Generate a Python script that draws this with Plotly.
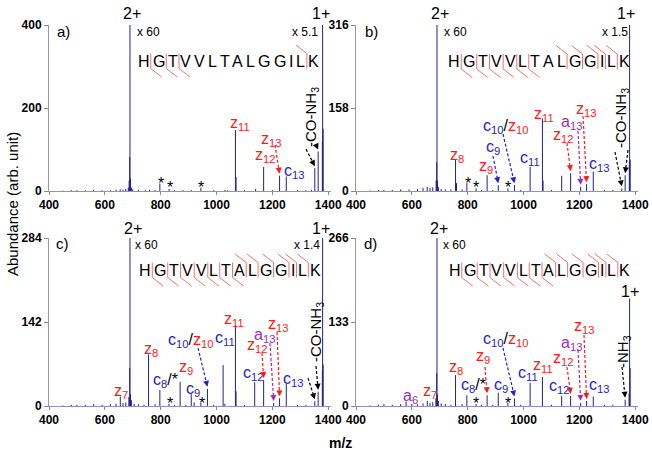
import math
import plotly.graph_objects as go

W, H = 652, 456
FONT = "Liberation Sans, Arial, sans-serif"

# ---------------- data ----------------
ymax_a, ymax_b, ymax_c, ymax_d = 400, 316, 284, 266
xticks = [400, 600, 800, 1000, 1200, 1400]

# panel a) peaks (m/z, abundance)
mz_a = [450, 480, 500, 530, 560, 590, 620, 640, 655, 665, 675, 684, 687, 689, 690, 692, 695, 700, 720, 745,
        760, 780, 797, 830, 850, 880, 910, 944, 990, 1030, 1040, 1067.7, 1070, 1100, 1140, 1168.7, 1200,
        1225.8, 1249.8, 1290, 1320, 1340, 1352, 1364, 1379, 1380, 1382]
ab_a = [1, 2, 2, 2, 3, 2, 2, 3, 4, 3, 5, 8, 25, 82, 400, 30, 8, 4, 3, 2,
        3, 2, 18, 5, 2, 2, 2, 8, 2, 3, 2, 147, 34, 2, 5, 58, 2,
        37, 35, 2, 2, 3, 55, 95, 120, 400, 150]

# panel b)
mz_b = [450, 480, 500, 530, 560, 590, 620, 640, 655, 665, 675, 687, 689, 690, 692, 695, 705, 720, 740,
        756.5, 760, 780, 797, 830, 850, 869.6, 890, 909.5, 944, 967.5, 990, 1023.6, 1067.7, 1070, 1100,
        1136.7, 1168.7, 1204.7, 1225.8, 1249.8, 1290, 1320, 1352, 1364, 1379, 1380, 1382]
ab_b = [1, 2, 2, 2, 3, 3, 4, 6, 8, 6, 7, 20, 55, 316, 20, 8, 4, 3, 3,
        60, 15, 3, 15, 5, 2, 30, 2, 11, 5, 11, 2, 46, 138, 20, 2,
        29, 34, 8, 13, 37, 2, 2, 5, 30, 55, 316, 60]

# panel c)
mz_c = [450, 480, 500, 530, 560, 590, 620, 640, 655.4, 665, 675, 686, 689, 690, 692, 695, 705, 720, 740,
        756.5, 780, 797, 830, 850, 869.6, 890, 909.5, 920, 944, 967.5, 990, 1023.6, 1030, 1067.7, 1070,
        1100, 1136.7, 1168.7, 1204.7, 1225.8, 1249.8, 1290, 1320, 1352, 1364, 1379, 1380, 1382]
ab_c = [1, 2, 2, 2, 3, 2, 3, 4, 16, 5, 6, 15, 64, 284, 20, 10, 4, 3, 2,
        87, 3, 27, 4, 2, 41, 2, 20, 6, 5, 29, 2, 69, 4, 137, 25,
        2, 40, 44, 5, 13, 37, 2, 2, 8, 24, 60, 284, 70]

# panel d)
mz_d = [450, 480, 500, 530, 560, 579.4, 600, 620, 640, 655.4, 665, 675, 686, 689, 690, 692, 695, 705, 720,
        740, 756.5, 780, 797, 830, 850, 869.6, 890, 909.5, 944, 967.5, 990, 1023.6, 1067.7, 1100, 1136.7,
        1168.7, 1204.7, 1225.8, 1249.8, 1290, 1320, 1364, 1378, 1380, 1382]
ab_d = [1, 2, 3, 2, 3, 7, 3, 3, 4, 8, 5, 6, 12, 52, 266, 18, 8, 4, 3,
        2, 49, 3, 17, 3, 2, 17, 2, 21, 5, 12, 2, 37, 46, 2, 16,
        16, 5, 8, 15, 2, 2, 10, 20, 170, 60]

sequence = list("HGTVVLTALGGILK")
z_cleav = {"a": [1, 2, 3], "b": [1, 2, 3, 4, 5, 6], "c": [1, 2, 3, 4, 5, 6, 7], "d": [1, 2, 3, 4, 5, 6, 7]}
c_cleav = {"a": [13], "b": [9, 10, 11, 12, 13], "c": [8, 9, 10, 11, 12, 13], "d": [8, 9, 10, 11, 12, 13]}

# ---------------- layout geometry (pixels) ----------------
XR = [400, 1410]
PANELS = {
    "a": dict(x0=49, x1=331, yb=191, yt=25, ymax=ymax_a, mz=mz_a, ab=ab_a, sfx=""),
    "b": dict(x0=356, x1=638, yb=191, yt=25, ymax=ymax_b, mz=mz_b, ab=ab_b, sfx="2"),
    "c": dict(x0=49, x1=331, yb=406, yt=238, ymax=ymax_c, mz=mz_c, ab=ab_c, sfx="3"),
    "d": dict(x0=356, x1=638, yb=406, yt=238, ymax=ymax_d, mz=mz_d, ab=ab_d, sfx="4"),
}

RED = "#ff1a1a"
BLUE = "#2323c8"
PURPLE = "#a02cb4"
SPEC = "#22228a"
MARK = "#f26060"


def paper(px, py):
    return px / W, 1 - py / H


def to_px(p, mz, h):
    g = PANELS[p]
    x = g["x0"] + (mz - XR[0]) / (XR[1] - XR[0]) * (g["x1"] - g["x0"])
    y = g["yb"] - h / g["ymax"] * (g["yb"] - g["yt"])
    return x, y


fig = go.Figure()
shapes = []
ann = []

for p, g in PANELS.items():
    xs, ys = [], []
    for m, a in zip(g["mz"], g["ab"]):
        xs += [m, m, None]
        ys += [0, a, None]
    fig.add_trace(go.Scatter(x=xs, y=ys, mode="lines", line=dict(color=SPEC, width=1),
                             xaxis="x" + g["sfx"], yaxis="y" + g["sfx"], showlegend=False,
                             hoverinfo="skip"))
    ym = g["ymax"]
    yt = [0, ym // 2, ym]
    fig.layout["xaxis" + g["sfx"]] = dict(
        domain=[g["x0"] / W, g["x1"] / W], range=XR, anchor="y" + g["sfx"],
        tickvals=xticks, ticktext=[f"<b>{v}</b>" for v in xticks],
        ticks="outside", ticklen=3, tickcolor="#888888", showline=True, linecolor="#8f8fcc",
        linewidth=1, showgrid=False, zeroline=False, automargin=False,
        tickfont=dict(family=FONT, size=12, color="black"))
    fig.layout["yaxis" + g["sfx"]] = dict(
        domain=[1 - g["yb"] / H, 1 - g["yt"] / H], range=[0, ym], anchor="x" + g["sfx"],
        tickvals=yt, ticktext=[f"<b>{v}</b>" for v in yt],
        ticks="outside", ticklen=4, tickcolor="#888888", showline=True, linecolor="#999999",
        linewidth=1, showgrid=False, zeroline=False, automargin=False,
        tickfont=dict(family=FONT, size=12, color="black"))


def text(px, py, t, size=16, color="black", xanchor="center", yanchor="middle", angle=0):
    x, y = paper(px, py)
    ann.append(dict(x=x, y=y, xref="paper", yref="paper", text=t, showarrow=False,
                    xanchor=xanchor, yanchor=yanchor, textangle=angle,
                    font=dict(family=FONT, size=size, color=color)))


def arrow(p, tail, mz, color):
    g = PANELS[p]
    h = dict(zip(g["mz"], g["ab"]))[mz]
    hx, hy = to_px(p, mz, h)
    hy -= 2
    tx, ty = tail
    dx, dy = tx - hx, ty - hy
    L = math.hypot(dx, dy)
    ux, uy = dx / L, dy / L
    x0, y0 = paper(tx, ty)
    x1, y1 = paper(hx + ux * 5, hy + uy * 5)
    shapes.append(dict(type="line", xref="paper", yref="paper", x0=x0, y0=y0, x1=x1, y1=y1,
                       line=dict(color=color, width=1.2, dash="3px,2px")))
    ax_, ay_ = paper(hx, hy)
    ann.append(dict(x=ax_, y=ay_, xref="paper", yref="paper", text="", showarrow=True,
                    ax=ux * 7, ay=uy * 7, arrowhead=2, arrowsize=1, arrowwidth=1.2,
                    arrowcolor=color, standoff=0))


# ---- sequence with cleavage marks ----
WID = {"H": .722, "G": .778, "T": .611, "V": .667, "L": .556, "A": .667, "I": .278, "K": .667}
SEQ_POS = {"a": (143.5, 61), "b": (454, 61.5), "c": (145, 270), "d": (454.5, 270)}
FS, GAP = 16, 3.0
for p, (sx, sy) in SEQ_POS.items():
    centers = [sx]
    for i in range(1, len(sequence)):
        centers.append(centers[-1] + (WID[sequence[i - 1]] + WID[sequence[i]]) / 2 * FS + GAP)
    for c, ch in zip(centers, sequence):
        text(c, sy + 0.5, ch, size=FS)
    def bnd(i):
        return centers[i - 1] + WID[sequence[i - 1]] / 2 * FS + GAP / 2
    for i in sorted(set(z_cleav[p]) | set(c_cleav[p])):
        xb = bnd(i)
        a0, a1 = paper(xb, sy - 7.5)
        b0, b1 = paper(xb, sy + 7.5)
        shapes.append(dict(type="line", xref="paper", yref="paper", x0=a0, y0=a1, x1=b0, y1=b1,
                           line=dict(color=MARK, width=0.9)))
    for i in z_cleav[p]:
        xb = bnd(i)
        a0, a1 = paper(xb, sy + 7.5)
        b0, b1 = paper(xb + 11, sy + 16)
        shapes.append(dict(type="line", xref="paper", yref="paper", x0=a0, y0=a1, x1=b0, y1=b1,
                           line=dict(color=MARK, width=0.9)))
    for i in c_cleav[p]:
        xb = bnd(i)
        a0, a1 = paper(xb - 11, sy - 16)
        b0, b1 = paper(xb, sy - 7.5)
        shapes.append(dict(type="line", xref="paper", yref="paper", x0=a0, y0=a1, x1=b0, y1=b1,
                           line=dict(color=MARK, width=0.9)))

# ---- panel letters, charge states, scale factors ----
for p, (x, y) in {"a": (63, 31), "b": (371, 31), "c": (62, 243), "d": (370, 243)}.items():
    text(x, y, p + ")", size=15)
for (x, y) in [(132, 14), (440, 14), (133, 229), (439, 229)]:
    text(x, y, "2+", size=16)
for (x, y) in [(321, 14), (626, 14), (321, 229), (630, 291)]:
    text(x, y, "1+", size=16)
for (x, y) in [(135, 32), (442, 32), (133, 245), (441, 245)]:
    text(x, y, "x 60", size=12, xanchor="left")
for (x, y, t) in [(320, 32, "x 5.1"), (630, 32, "x 1.5"), (322, 245, "x 1.4")]:
    text(x, y, t, size=12, xanchor="right")

# ---- stars ----
for (x, y) in [(161, 184), (170, 188), (201, 187), (468, 184), (476, 188), (508, 188),
               (170, 403), (202, 403), (476, 403), (508, 403)]:
    text(x, y, "*", size=16)


def ion(letter, n, color):
    return f"<span style='color:{color}'>{letter}<sub>{n}</sub></span>"


cz10 = ion("c", 10, BLUE) + "/" + ion("z", 10, RED)
c8s = ion("c", 8, BLUE) + "/*"

labels = [
    # panel a
    (228, 124, ion("z", 11, RED)), (259, 139, ion("z", 13, RED)), (253, 156, ion("z", 12, RED)),
    (282, 171, ion("c", 13, BLUE)),
    # panel b
    (448, 155, ion("z", 8, RED)), (484, 147, ion("c", 9, BLUE)), (477, 166, ion("z", 9, RED)),
    (481, 127, cz10), (518, 159, ion("c", 11, BLUE)), (532, 114, ion("z", 11, RED)),
    (559, 122, ion("a", 13, PURPLE)), (551, 135, ion("z", 12, RED)), (574, 109, ion("z", 13, RED)),
    (587, 164, ion("c", 13, BLUE)),
    # panel c
    (112, 391, ion("z", 7, RED)), (142, 349, ion("z", 8, RED)), (151, 380, c8s),
    (177, 367, ion("z", 9, RED)), (184, 389, ion("c", 9, BLUE)), (166, 340, cz10),
    (213, 338, ion("c", 11, BLUE)), (222, 319, ion("z", 11, RED)), (245, 345, ion("z", 12, RED)),
    (252, 335, ion("a", 13, PURPLE)), (266, 324, ion("z", 13, RED)), (241, 373, ion("c", 12, BLUE)),
    (281, 379, ion("c", 13, BLUE)),
    # panel d
    (401, 396, ion("a", 6, PURPLE)), (421, 391, ion("z", 7, RED)), (447, 367, ion("z", 8, RED)),
    (459, 385, c8s), (474, 356, ion("z", 9, RED)), (492, 385, ion("c", 9, BLUE)),
    (481, 339, cz10), (516, 373, ion("c", 11, BLUE)), (531, 365, ion("z", 11, RED)),
    (551, 358, ion("z", 12, RED)), (547, 386, ion("c", 12, BLUE)), (559, 343, ion("a", 13, PURPLE)),
    (572, 326, ion("z", 13, RED)), (587, 385, ion("c", 13, BLUE)),
]
for x, y, t in labels:
    size = 16 if ("/" in t) else 18
    text(x, y, t, size=size, xanchor="left")

# rotated neutral-loss labels
text(312, 117, "-CO-NH<sub>3</sub>", size=15, angle=-90)
text(621, 118, "-CO-NH<sub>3</sub>", size=15, angle=-90)
text(316, 332, "-CO-NH<sub>3</sub>", size=15, angle=-90)
text(623, 352, "-NH<sub>3</sub>", size=15, angle=-90)

# ---- dashed arrows ----
arrows = [
    ("a", (275, 145), 1225.8, RED), ("a", (306, 149), 1352, "black"), ("a", (317, 147), 1364, "black"),
    ("b", (493, 156), 909.5, BLUE), ("b", (503, 134), 967.5, BLUE), ("b", (578, 131), 1204.7, PURPLE),
    ("b", (567, 143), 1168.7, RED), ("b", (583, 116), 1225.8, RED),
    ("b", (615, 152), 1352, "black"), ("b", (628, 150), 1364, "black"),
    ("c", (198, 348), 967.5, BLUE), ("c", (262, 353), 1168.7, RED), ("c", (270, 343), 1204.7, PURPLE),
    ("c", (277, 332), 1225.8, RED), ("c", (308, 378), 1352, "black"), ("c", (316, 366), 1364, "black"),
    ("d", (485, 367), 869.6, RED), ("d", (503, 348), 967.5, BLUE), ("d", (567, 367), 1168.7, RED),
    ("d", (578, 350), 1204.7, PURPLE), ("d", (584, 335), 1225.8, RED), ("d", (622, 367), 1364, "black"),
]
for p, tail, mz, col in arrows:
    arrow(p, tail, mz, col)

# axis titles
text(12, 204, "Abundance (arb. unit)", size=15, angle=-90)
text(340, 443, "<b>m/z</b>", size=14)

fig.update_layout(
    width=W, height=H, margin=dict(l=0, r=0, t=0, b=0), template="none",
    paper_bgcolor="white", plot_bgcolor="rgba(0,0,0,0)", showlegend=False,
    shapes=shapes, annotations=ann, font=dict(family=FONT),
)
fig.write_html("out.html", config={"displayModeBar": False},
               post_script="document.body.style.margin='0';document.body.style.padding='0';")
